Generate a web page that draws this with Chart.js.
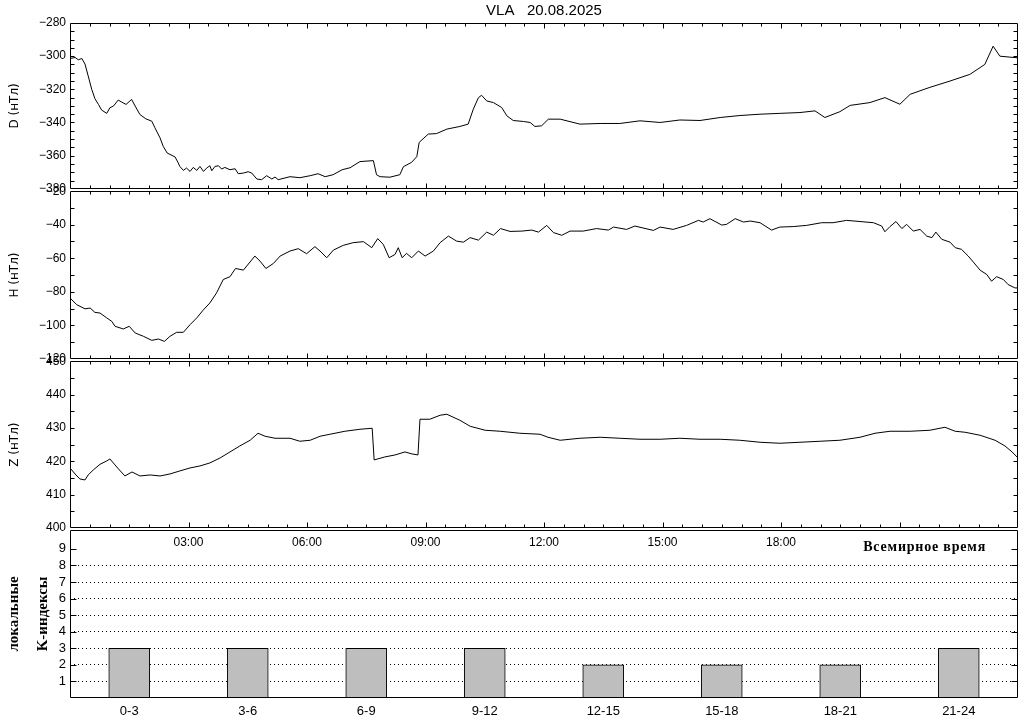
<!DOCTYPE html>
<html>
<head>
<meta charset="utf-8">
<script src="https://cdn.jsdelivr.net/npm/chart.js@4.4.1/dist/chart.umd.min.js"></script>
<style>
  html, body { margin: 0; padding: 0; background: #fff; }
  #wrap { position: relative; width: 1024px; height: 720px; overflow: hidden; }
  #wrap canvas { position: absolute; left: 0; }
</style>
</head>
<body>
<div id="wrap">
  <canvas id="cD" width="1024" height="200" style="top:0px"></canvas>
  <canvas id="cH" width="1024" height="190" style="top:180px"></canvas>
  <canvas id="cZ" width="1024" height="210" style="top:350px"></canvas>
  <canvas id="cK" width="1024" height="202" style="top:518px"></canvas>
</div>
<script>
// D component (nT), hours UT
const dHours = [0, 0.13, 0.21, 0.30, 0.38, 0.46, 0.55, 0.63, 0.72, 0.80,
  0.93, 1.01, 1.10, 1.22, 1.31, 1.42, 1.56, 1.65, 1.77, 1.92,
  2.07, 2.15, 2.28, 2.36, 2.46, 2.66, 2.74, 2.78, 2.87, 2.95,
  3.04, 3.12, 3.21, 3.29, 3.38, 3.46, 3.54, 3.59, 3.67, 3.76,
  3.84, 3.92, 4.05, 4.18, 4.26, 4.39, 4.51, 4.60, 4.73, 4.85,
  4.98, 5.11, 5.19, 5.27, 5.57, 5.82, 6.08, 6.28, 6.46, 6.66,
  6.89, 7.09, 7.34, 7.68, 7.76, 7.85, 8.10, 8.35, 8.44, 8.65,
  8.78, 8.84, 9.07, 9.28, 9.54, 9.87, 10.08, 10.21, 10.34, 10.42,
  10.55, 10.72, 10.93, 11.06, 11.22, 11.48, 11.65, 11.77, 11.94, 12.11,
  12.41, 12.91, 13.42, 13.92, 14.43, 14.94, 15.44, 15.95, 16.46, 16.96,
  17.47, 17.97, 18.48, 18.86, 19.11, 19.49, 19.75, 20.25, 20.63, 21.01,
  21.27, 21.77, 22.28, 22.78, 23.16, 23.37, 23.54, 23.80, 24.00];
const dValues = [-301.4, -300.8, -302.2, -301.4, -304.8, -311.9, -320, -325.6, -329.1, -332.5,
  -334.5, -331.1, -330.1, -326.5, -327.7, -329.1, -326.1, -330.1, -335.2, -337.8,
  -339.2, -343.2, -349.3, -354.4, -358.4, -360.8, -364.4, -366.5, -368.9, -367.5,
  -369.5, -367.1, -368.9, -366.5, -369.5, -367.5, -366.1, -369.1, -366.5, -366.1,
  -368.1, -367.1, -368.5, -367.9, -370.9, -370.5, -369.7, -370.5, -374.1, -374.5,
  -372.1, -374.1, -372.9, -374.5, -372.7, -373.3, -372.1, -370.9, -372.7, -371.5,
  -368.5, -367.3, -363.6, -363, -371.5, -372.7, -373, -371.5, -366.7, -364,
  -360.6, -352, -347, -346.7, -344, -342.4, -341, -332, -325, -323.6,
  -327, -328, -331, -336, -338.8, -339.4, -340, -342.4, -342, -338,
  -338, -341, -340.6, -340.6, -339, -340, -338.5, -338.8, -337, -335.8,
  -335, -334.5, -334, -333, -337, -333.5, -329.7, -328, -325, -329,
  -323, -318.8, -315, -311, -305, -294, -300, -300.6, -301];

// H component (nT)
const hHours = [0, 0.17, 0.38, 0.51, 0.63, 0.76, 0.93, 1.06, 1.14, 1.35,
  1.50, 1.65, 1.86, 2.07, 2.24, 2.39, 2.53, 2.70, 2.87, 3.04,
  3.21, 3.37, 3.54, 3.71, 3.88, 4.05, 4.19, 4.39, 4.68, 4.81,
  4.96, 5.15, 5.32, 5.57, 5.78, 5.99, 6.20, 6.33, 6.50, 6.67,
  6.92, 7.17, 7.43, 7.64, 7.79, 7.93, 8.08, 8.23, 8.31, 8.41,
  8.52, 8.65, 8.82, 8.99, 9.20, 9.37, 9.58, 9.79, 9.96, 10.13,
  10.34, 10.55, 10.72, 10.90, 11.14, 11.44, 11.69, 11.86, 12.07, 12.24,
  12.45, 12.66, 12.99, 13.33, 13.63, 13.76, 14.09, 14.30, 14.77, 14.94,
  15.27, 15.61, 15.91, 16.03, 16.20, 16.50, 16.62, 16.84, 17.05, 17.22,
  17.47, 17.76, 17.97, 18.31, 18.65, 19.03, 19.32, 19.66, 20.00, 20.34,
  20.55, 20.63, 20.76, 20.91, 21.06, 21.18, 21.35, 21.52, 21.69, 21.82,
  21.92, 22.07, 22.28, 22.41, 22.57, 22.74, 22.87, 23.04, 23.21, 23.33,
  23.46, 23.63, 23.75, 23.92, 24.00];
const hValues = [-83.7, -87.7, -90.2, -89.7, -92.3, -92.7, -95.6, -97.7, -100.6, -102.2,
  -100.6, -104.6, -106.6, -109, -108.2, -109.6, -106.6, -104.2, -104.2, -99.6,
  -95.6, -91, -86.7, -80.7, -72.7, -71, -66.1, -67.1, -58.7, -61.7,
  -66.1, -63.1, -58.7, -55.7, -54.3, -57.3, -53.1, -55.7, -59.7, -55.1,
  -52.3, -50.7, -50.1, -53.7, -48.3, -51.7, -59.7, -57.7, -53.7, -59.7,
  -57.1, -59.7, -55.7, -58.7, -55.7, -50.7, -46.8, -49.8, -50.4, -47.7,
  -49.2, -44.4, -46.3, -42.3, -44, -43.8, -43.2, -44.4, -40.4, -44.7,
  -46.3, -43.8, -43.8, -42.3, -43.2, -41.4, -42.8, -40.8, -43.4, -41.4,
  -42.8, -40.4, -37.4, -38.4, -36.4, -40.2, -39.8, -36.4, -38.4, -37.8,
  -38.8, -43.2, -41.4, -41.1, -40.4, -38.8, -38.8, -37.4, -38.1, -38.8,
  -40.8, -44.2, -41.1, -38.1, -42.3, -39.8, -43.8, -42.8, -46.8, -47.7,
  -44.4, -48.7, -50.4, -53.7, -54.7, -58.7, -62.3, -67.1, -69.7, -73.7,
  -71, -72.7, -75.7, -77.7, -77.7];

// Z component (nT)
const zHours = [0, 0.15, 0.25, 0.38, 0.46, 0.59, 0.76, 0.93, 1.01, 1.14,
  1.25, 1.39, 1.57, 1.77, 2.03, 2.28, 2.53, 2.78, 3.04, 3.29,
  3.54, 3.80, 4.05, 4.30, 4.56, 4.76, 4.94, 5.19, 5.57, 5.82,
  6.08, 6.33, 6.58, 6.96, 7.34, 7.65, 7.70, 7.97, 8.23, 8.48,
  8.66, 8.81, 8.86, 9.11, 9.37, 9.54, 9.87, 10.13, 10.51, 10.89,
  11.39, 11.90, 12.10, 12.41, 12.91, 13.42, 13.92, 14.43, 14.94, 15.44,
  15.95, 16.46, 16.96, 17.47, 17.97, 18.48, 18.99, 19.49, 20.00, 20.38,
  20.76, 21.27, 21.77, 22.15, 22.41, 22.66, 23.04, 23.42, 23.67, 23.85,
  24.00];
const zValues = [418, 415.9, 414.7, 414.4, 415.9, 417.4, 419.1, 420.1, 420.7, 418.9,
  417.4, 415.6, 416.8, 415.6, 415.9, 415.6, 416.2, 417.1, 418, 418.6,
  419.5, 421, 422.8, 424.6, 426.3, 428.4, 427.5, 426.9, 426.9, 426,
  426.3, 427.5, 428.1, 429, 429.6, 429.9, 420.4, 421.3, 421.9, 422.8,
  422.2, 421.9, 432.6, 432.6, 433.8, 434.1, 432.3, 430.5, 429.3, 429,
  428.4, 428.1, 427.2, 426.3, 426.9, 427.2, 426.9, 426.6, 426.6, 426.9,
  426.6, 426.6, 426.3, 425.7, 425.4, 425.7, 426, 426.3, 427.2, 428.4,
  429, 429, 429.3, 430.2, 429, 428.7, 427.8, 426.3, 424.6, 422.8,
  421];

// local K indices per 3-hour interval
const kCenters = [1.5, 4.5, 7.5, 10.5, 13.5, 16.5, 19.5, 22.5];
const kLabels = ['0-3', '3-6', '6-9', '9-12', '12-15', '15-18', '18-21', '21-24'];
const kValues = [3, 3, 3, 3, 2, 2, 2, 3];

const timeTicks = [3, 6, 9, 12, 15, 18];
const timeLabels = ['03:00', '06:00', '09:00', '12:00', '15:00', '18:00'];

Chart.defaults.font.family = "'Liberation Sans', Arial, sans-serif";
Chart.defaults.font.size = 12;
Chart.defaults.color = '#000';
Chart.defaults.animation = false;
Chart.defaults.plugins.legend.display = false;
Chart.defaults.plugins.tooltip.enabled = false;

// box around each panel with inward ticks
const framePlugin = {
  id: 'frame',
  afterDatasetsDraw(chart, args, opts) {
    const { ctx, chartArea: a, scales: { x, y } } = chart;
    const L = Math.round(a.left) + 0.5, R = Math.round(a.right) - 0.5;
    const T = Math.round(a.top) + 0.5, B = Math.round(a.bottom) - 0.5;
    ctx.save();
    ctx.strokeStyle = '#000';
    ctx.lineWidth = 1;
    ctx.beginPath();
    ctx.rect(L, T, R - L, B - T);
    if (opts.xTicks) {
      for (let h = 0.5; h < 24; h += 0.5) {
        const px = Math.round(x.getPixelForValue(h)) + 0.5;
        const len = h % 3 === 0 ? 5 : 3;
        ctx.moveTo(px, T); ctx.lineTo(px, T + len);
        ctx.moveTo(px, B); ctx.lineTo(px, B - len);
      }
    }
    for (let v = y.min + opts.yStep; v <= opts.yLast + 1e-9; v += opts.yStep) {
      const py = Math.round(y.getPixelForValue(v)) + 0.5;
      ctx.moveTo(L, py); ctx.lineTo(L + opts.yLen, py);
      ctx.moveTo(R, py); ctx.lineTo(R - opts.yLen, py);
    }
    ctx.stroke();
    ctx.restore();
  }
};

const utLabel = {
  id: 'utLabel',
  afterDraw(chart) {
    const { ctx, chartArea: a } = chart;
    ctx.save();
    ctx.font = "bold 14px 'Liberation Serif', serif";
    ctx.letterSpacing = '0.8px';
    ctx.fillStyle = '#000';
    ctx.textAlign = 'right';
    ctx.textBaseline = 'middle';
    ctx.fillText('Всемирное время', a.right - 32, a.bottom + 19);
    ctx.restore();
  }
};

const minusFmt = v => String(v).replace('-', '\u2212');

function lineChart(id, hours, values, yMin, yMax, yStep, minor, title, extra) {
  const cfg = {
    type: 'line',
    data: {
      datasets: [{
        data: hours.map((h, i) => ({ x: h, y: values[i] })),
        borderColor: '#000',
        borderWidth: 1,
        pointRadius: 0,
        tension: 0,
      }]
    },
    options: {
      responsive: false,
      layout: { padding: extra.padding },
      plugins: {
        frame: { xTicks: true, yStep: minor, yLast: yMax - minor, yLen: 4 },
        title: extra.title || { display: false },
      },
      scales: {
        x: extra.x || { type: 'linear', min: 0, max: 24, display: false },
        y: {
          min: yMin, max: yMax,
          afterFit: s => { s.width = 70; },
          grid: { display: false, drawTicks: false },
          border: { display: false },
          ticks: { stepSize: yStep, padding: 4, callback: minusFmt },
          title: {
            display: true, text: title,
            font: { family: "'DejaVu Sans', sans-serif", size: 12 },
            padding: { top: 8, bottom: 0 },
          },
        }
      }
    },
    plugins: [framePlugin].concat(extra.plugins || [])
  };
  return new Chart(document.getElementById(id), cfg);
}

lineChart('cD', dHours, dValues, -380, -280, 20, 5, 'D (нТл)', {
  padding: { top: 0, right: 6, bottom: 10, left: 0 },
  title: {
    display: true, text: 'VLA   20.08.2025', fullSize: false,
    font: { size: 15, weight: 'normal' },
    padding: { top: 2, bottom: 3 },
  },
});

lineChart('cH', hHours, hValues, -120, -20, 20, 10, 'H (нТл)', {
  padding: { top: 10, right: 6, bottom: 10, left: 0 },
});

lineChart('cZ', zHours, zValues, 400, 450, 10, 5, 'Z (нТл)', {
  padding: { top: 10, right: 6, bottom: 0, left: 0 },
  x: {
    type: 'linear', min: 0, max: 24,
    grid: { display: false, drawTicks: false },
    border: { display: false },
    afterBuildTicks: s => { s.ticks = timeTicks.map(v => ({ value: v })); },
    afterFit: s => { s.height = 32; },
    ticks: { autoSkip: false, maxRotation: 0, padding: 7, callback: (v, i) => timeLabels[i] },
  },
  plugins: [utLabel],
});

new Chart(document.getElementById('cK'), {
  type: 'bar',
  data: {
    datasets: [{
      data: kCenters.map((c, i) => ({ x: c, y: kValues[i] })),
      backgroundColor: '#bebebe',
      borderColor: '#000',
      borderWidth: 1,
      borderSkipped: false,
      barThickness: 41,
    }]
  },
  options: {
    responsive: false,
    layout: { padding: { top: 10, right: 6, bottom: 0, left: 0 } },
    plugins: {
      frame: { xTicks: false, yStep: 1, yLast: 9, yLen: 6 },
    },
    scales: {
      x: {
        type: 'linear', min: 0, max: 24, offset: false,
        grid: { display: false, drawTicks: false },
        border: { display: false },
        afterBuildTicks: s => { s.ticks = kCenters.map(v => ({ value: v })); },
        afterFit: s => { s.height = 22; },
        ticks: { autoSkip: false, maxRotation: 0, padding: 6, font: { size: 13 }, callback: (v, i) => kLabels[i] },
      },
      y: {
        min: 0, max: 10.15,
        afterFit: s => { s.width = 70; },
        afterBuildTicks: s => { s.ticks = [1, 2, 3, 4, 5, 6, 7, 8, 9].map(v => ({ value: v })); },
        grid: {
          drawTicks: false,
          color: c => (c.tick && c.tick.value <= 8 ? '#000' : 'rgba(0,0,0,0)'),
        },
        border: { display: false, dash: [1, 3] },
        ticks: { padding: 4, font: { size: 13 } },
        title: {
          display: true, text: ['локальные', 'K-индексы'],
          font: { family: "'Liberation Serif', serif", size: 15, weight: 'bold', lineHeight: 1.93 },
          padding: { top: 0, bottom: 0 },
        },
      }
    }
  },
  plugins: [framePlugin]
});
</script>
</body>
</html>
